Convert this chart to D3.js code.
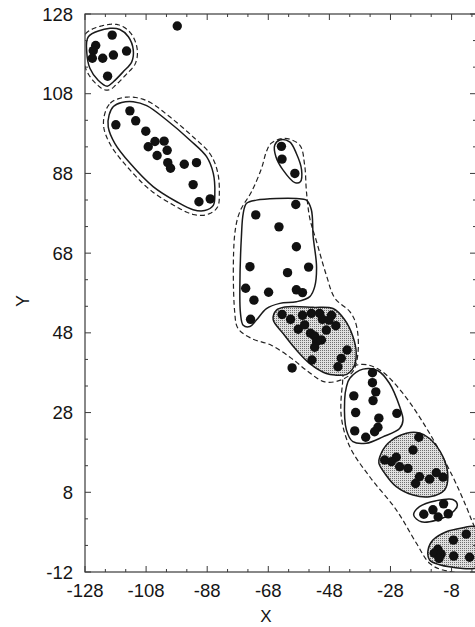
<!DOCTYPE html>
<html><head><meta charset="utf-8">
<script src="https://cdn.jsdelivr.net/npm/d3@7"></script>
<style>body{margin:0;background:#fff}svg{display:block}</style>
</head><body><svg id="c" width="475" height="627"></svg>
<script>
const xTicks = [-128,-108,-88,-68,-48,-28,-8];
const yTicks = [128,108,88,68,48,28,8,-12];
const xTitle = "X", yTitle = "Y";

const outliers = [[-97.8,125.0],[-60.2,39.2]];

const ptsA = [[-119.1,122.7],[-124.5,120.1],[-125.3,118.8],[-125.6,116.9],[-122.2,116.9],[-118.7,117.7],[-114.4,118.7],[-120.6,112.4]];
const contourA = [[-119.8,124.4],[-126.9,122.3],[-127.4,118.2],[-126.4,114.4],[-123.7,111.4],[-120.7,109.9],[-118.7,111.0],[-115.5,113.5],[-112.7,116.0],[-112.2,119.0],[-113.8,122.3],[-116.6,124.1]];

const ptsB = [[-117.9,100.2],[-113.3,103.7],[-111.4,101.2],[-108.1,98.6],[-107.3,94.7],[-105.1,96.0],[-102.1,96.1],[-101.1,93.8],[-104.4,92.5],[-100.9,90.7],[-100.0,89.3],[-95.5,90.3],[-91.5,90.7],[-92.6,85.2],[-90.7,80.9],[-87.0,81.6]];
const contourB = [[-120.1,102.7],[-118.7,104.8],[-116.0,105.8],[-112.2,106.0],[-107.8,105.0],[-101.3,101.4],[-93.7,96.4],[-88.2,92.2],[-86.0,88.0],[-85.5,83.0],[-86.0,80.0],[-88.8,78.7],[-92.6,78.9],[-98.0,80.9],[-105.7,84.7],[-113.3,90.6],[-118.2,95.5],[-120.4,99.7]];

const ptsT = [[-63.7,94.8],[-63.5,91.6],[-59.3,88.0]];
const contourT = [[-64.2,96.4],[-61.0,95.9],[-58.8,93.0],[-57.1,88.9],[-57.5,85.9],[-59.3,85.7],[-63.2,88.9],[-65.5,92.2],[-65.9,95.1]];

const ptsM = [[-59.0,80.2],[-72.1,77.6],[-64.5,74.6],[-58.8,69.6],[-74.0,64.6],[-54.8,64.5],[-61.7,63.1],[-75.4,59.2],[-67.9,58.2],[-58.8,58.8],[-56.8,58.1],[-72.7,56.2],[-73.8,51.4]];
const contourM = [[-75.1,80.5],[-71.9,81.3],[-58.8,81.7],[-55.5,81.3],[-53.9,78.9],[-53.3,72.1],[-52.2,64.6],[-52.8,59.6],[-54.4,57.1],[-58.8,55.8],[-64.2,55.4],[-68.6,54.1],[-71.9,51.2],[-74.0,49.6],[-76.2,49.9],[-77.1,52.9],[-77.3,59.6],[-76.8,72.1],[-76.2,78.0]];

const ptsC = [[-63.5,52.6],[-60.7,51.4],[-56.8,52.4],[-53.9,52.9],[-51.2,52.9],[-47.3,52.4],[-50.3,51.4],[-48.1,51.2],[-45.9,49.8],[-58.2,48.9],[-56.1,50.0],[-54.2,47.9],[-52.8,47.2],[-49.0,48.7],[-52.2,45.8],[-50.6,46.2],[-52.8,44.4],[-42.2,43.7],[-53.7,41.2],[-44.1,41.6],[-45.2,39.5]];
const contourC = [[-65.3,53.7],[-62.6,54.5],[-53.3,54.4],[-46.8,54.1],[-43.0,51.3],[-40.3,47.1],[-39.2,42.9],[-40.0,39.5],[-42.3,37.6],[-46.2,37.4],[-49.0,37.8],[-54.4,40.3],[-58.8,43.7],[-63.2,47.9],[-66.4,51.3]];

const ptsD = [[-33.9,38.0],[-33.9,35.5],[-32.8,33.2],[-40.0,32.2],[-33.7,31.0],[-39.4,28.0],[-25.9,27.8],[-31.8,26.6],[-32.1,24.3],[-39.7,23.4],[-33.2,23.2],[-36.1,21.8]];
const contourD = [[-41.3,36.6],[-37.0,38.9],[-32.1,38.5],[-28.3,35.3],[-25.0,29.5],[-23.9,26.1],[-25.0,24.0],[-30.5,21.9],[-35.9,20.3],[-40.3,20.7],[-42.4,23.6],[-43.0,31.2],[-42.4,34.5]];

const ptsE = [[-18.7,21.8],[-20.6,18.6],[-26.1,16.8],[-27.7,15.7],[-29.9,16.1],[-25.0,14.4],[-22.3,14.0],[-18.5,11.9],[-19.8,10.2],[-15.2,11.3],[-13.0,12.9],[-10.8,11.8]];
const contourE = [[-31.5,16.9],[-28.8,20.3],[-22.8,22.8],[-18.5,22.9],[-15.2,21.5],[-10.8,16.9],[-9.2,11.9],[-10.3,8.6],[-15.2,6.9],[-20.6,7.3],[-26.1,9.4],[-29.9,12.8],[-31.8,15.3]];

const ptsF = [[-17.1,2.5],[-14.1,3.6],[-10.6,5.1],[-9.1,2.6],[-12.4,1.8]];
const contourF = [[-20.4,2.3],[-18.5,4.4],[-13.0,5.9],[-7.6,6.2],[-6.1,4.8],[-8.1,2.7],[-13.0,1.0],[-17.9,0.6]];

const ptsG = [[-3.2,-2.5],[-7.4,-4.0],[-12.5,-6.3],[-13.7,-7.3],[-11.4,-7.5],[-12.1,-8.6],[-7.3,-8.0],[-2.1,-8.3]];
const contourG = [[-15.7,-6.5],[-14.1,-4.0],[-9.7,-1.9],[-4.3,-0.9],[-0.5,-0.6],[4.4,-4.0],[4.4,-10.2],[-0.5,-11.1],[-4.3,-11.1],[-11.9,-10.2],[-15.2,-9.0]];

const envelopeUpper = [[-67.0,95.6],[-62.6,96.8],[-57.7,95.1],[-56.1,90.1],[-55.5,83.4],[-54.4,76.7],[-52.2,70.9],[-49.0,62.5],[-46.2,56.7],[-41.3,53.3],[-39.2,50.0],[-38.6,43.3],[-40.3,38.3],[-44.1,36.2],[-49.5,35.7],[-55.0,38.3],[-60.4,41.6],[-67.0,44.9],[-73.5,46.6],[-77.9,49.1],[-79.0,53.3],[-79.0,72.6],[-77.3,78.4],[-73.5,83.4],[-70.2,89.3],[-68.6,93.5]];
const envelopeLower = [[-43.0,38.3],[-37.5,40.1],[-31.5,38.7],[-23.9,32.8],[-15.2,22.8],[-7.6,11.9],[-3.2,4.4],[-0.5,-0.6],[3.8,-6.5],[1.2,-11.8],[-10.8,-11.5],[-15.2,-9.8],[-19.5,-4.8],[-26.1,3.6],[-34.8,11.9],[-41.3,19.4],[-44.1,27.0],[-43.7,35.3]];

const clusters = [
  {pts: ptsA, contour: contourA, shaded: false, halo: 4},
  {pts: ptsB, contour: contourB, shaded: false, halo: 4.5},
  {pts: ptsT, contour: contourT, shaded: false, halo: 0},
  {pts: ptsM, contour: contourM, shaded: false, halo: 0},
  {pts: ptsC, contour: contourC, shaded: true, halo: 0},
  {pts: ptsD, contour: contourD, shaded: false, halo: 0},
  {pts: ptsE, contour: contourE, shaded: true, halo: 0},
  {pts: ptsF, contour: contourF, shaded: false, halo: 0},
  {pts: ptsG, contour: contourG, shaded: true, halo: 0}
];
const envelopes = [envelopeUpper, envelopeLower];

const svg = d3.select('#c');
const L = 85, R = 476, T = 14, B = 572;
const x = d3.scaleLinear().domain([-128, 0]).range([L, R]);
const y = d3.scaleLinear().domain([-12, 128]).range([B, T]);

const defs = svg.append('defs');
const pat = defs.append('pattern').attr('id','stip').attr('width',2).attr('height',2).attr('patternUnits','userSpaceOnUse');
pat.append('rect').attr('width',2).attr('height',2).attr('fill','#e0e0e0');
pat.append('rect').attr('width',1).attr('height',1).attr('fill','#707070');
defs.append('clipPath').attr('id','clip').append('rect').attr('x',L).attr('y',T).attr('width',R-L).attr('height',B-T);

const line = d3.line().x(d=>x(d[0])).y(d=>y(d[1])).curve(d3.curveCatmullRomClosed.alpha(0.5));
const g = svg.append('g').attr('clip-path','url(#clip)');

function offsetD(node, off){
  const len = node.getTotalLength(), N = 260, pts = [];
  for (let i=0;i<N;i++){ const p = node.getPointAtLength(len*i/N); pts.push([p.x,p.y]); }
  let area = 0;
  for (let i=0;i<N;i++){ const a=pts[i], b=pts[(i+1)%N]; area += a[0]*b[1]-b[0]*a[1]; }
  const s = area > 0 ? 1 : -1;
  const out = pts.map((p,i)=>{
    const a = pts[(i-1+N)%N], b = pts[(i+1)%N];
    let tx=b[0]-a[0], ty=b[1]-a[1]; const l=Math.hypot(tx,ty)||1; tx/=l; ty/=l;
    return [p[0]+s*ty*off, p[1]-s*tx*off];
  });
  return 'M' + out.map(p=>p[0].toFixed(2)+','+p[1].toFixed(2)).join('L') + 'Z';
}

envelopes.forEach(env => {
  g.append('path').attr('d', line(env)).attr('fill','none')
   .attr('stroke','#222').attr('stroke-width',1.2).attr('stroke-dasharray','5,3');
});

clusters.forEach(c => {
  const p = g.append('path').attr('d', line(c.contour))
    .attr('fill', c.shaded ? 'url(#stip)' : 'none')
    .attr('stroke','#1a1a1a').attr('stroke-width',1.5);
  if (c.halo) {
    g.append('path').attr('d', offsetD(p.node(), c.halo)).attr('fill','none')
     .attr('stroke','#222').attr('stroke-width',1.2).attr('stroke-dasharray','5,3');
  }
});

const allPts = clusters.flatMap(c => c.pts).concat(outliers);
g.selectAll('circle.pt').data(allPts).enter().append('circle').attr('class','pt')
  .attr('cx', d=>x(d[0])).attr('cy', d=>y(d[1])).attr('r', 4.7).attr('fill', '#111');

// frame
svg.append('rect').attr('x',L).attr('y',T).attr('width',R-L).attr('height',B-T)
  .attr('fill','none').attr('stroke','#3a3a3a').attr('stroke-width',1.2);

// ticks
const minorX = d3.range(-128, 0.01, 20/3);
const minorY = d3.range(-12, 128.01, 20/3);
const tk = svg.append('g').attr('stroke','#3a3a3a').attr('stroke-width',1);
minorX.forEach(v => {
  const major = xTicks.some(t => Math.abs(t - v) < 0.01);
  const len = major ? 6 : 3;
  tk.append('line').attr('x1',x(v)).attr('x2',x(v)).attr('y1',B).attr('y2',B-len);
  tk.append('line').attr('x1',x(v)).attr('x2',x(v)).attr('y1',T).attr('y2',T+len);
});
minorY.forEach(v => {
  const major = yTicks.some(t => Math.abs(t - v) < 0.01);
  const len = major ? 6 : 3;
  tk.append('line').attr('y1',y(v)).attr('y2',y(v)).attr('x1',L).attr('x2',L+len);
  tk.append('line').attr('y1',y(v)).attr('y2',y(v)).attr('x1',R).attr('x2',R-len);
});

const font = "Arial, 'Liberation Sans', sans-serif";
svg.append('g').selectAll('text').data(xTicks).enter().append('text')
  .attr('x', d=>x(d)).attr('y', 597).attr('text-anchor','middle')
  .attr('font-family', font).attr('font-size', 18.5).attr('fill','#151515').text(d=>d);
svg.append('g').selectAll('text').data(yTicks).enter().append('text')
  .attr('x', 73).attr('y', d=>y(d)+6.5).attr('text-anchor','end')
  .attr('font-family', font).attr('font-size', 18.5).attr('fill','#151515').text(d=>d);
svg.append('text').attr('x', 266).attr('y', 622).attr('text-anchor','middle')
  .attr('font-family', font).attr('font-size', 17).attr('fill','#151515').text(xTitle);
svg.append('text').attr('transform','translate(29,301) rotate(-90)').attr('text-anchor','middle')
  .attr('font-family', font).attr('font-size', 18).attr('fill','#151515').text(yTitle);
</script></body></html>
